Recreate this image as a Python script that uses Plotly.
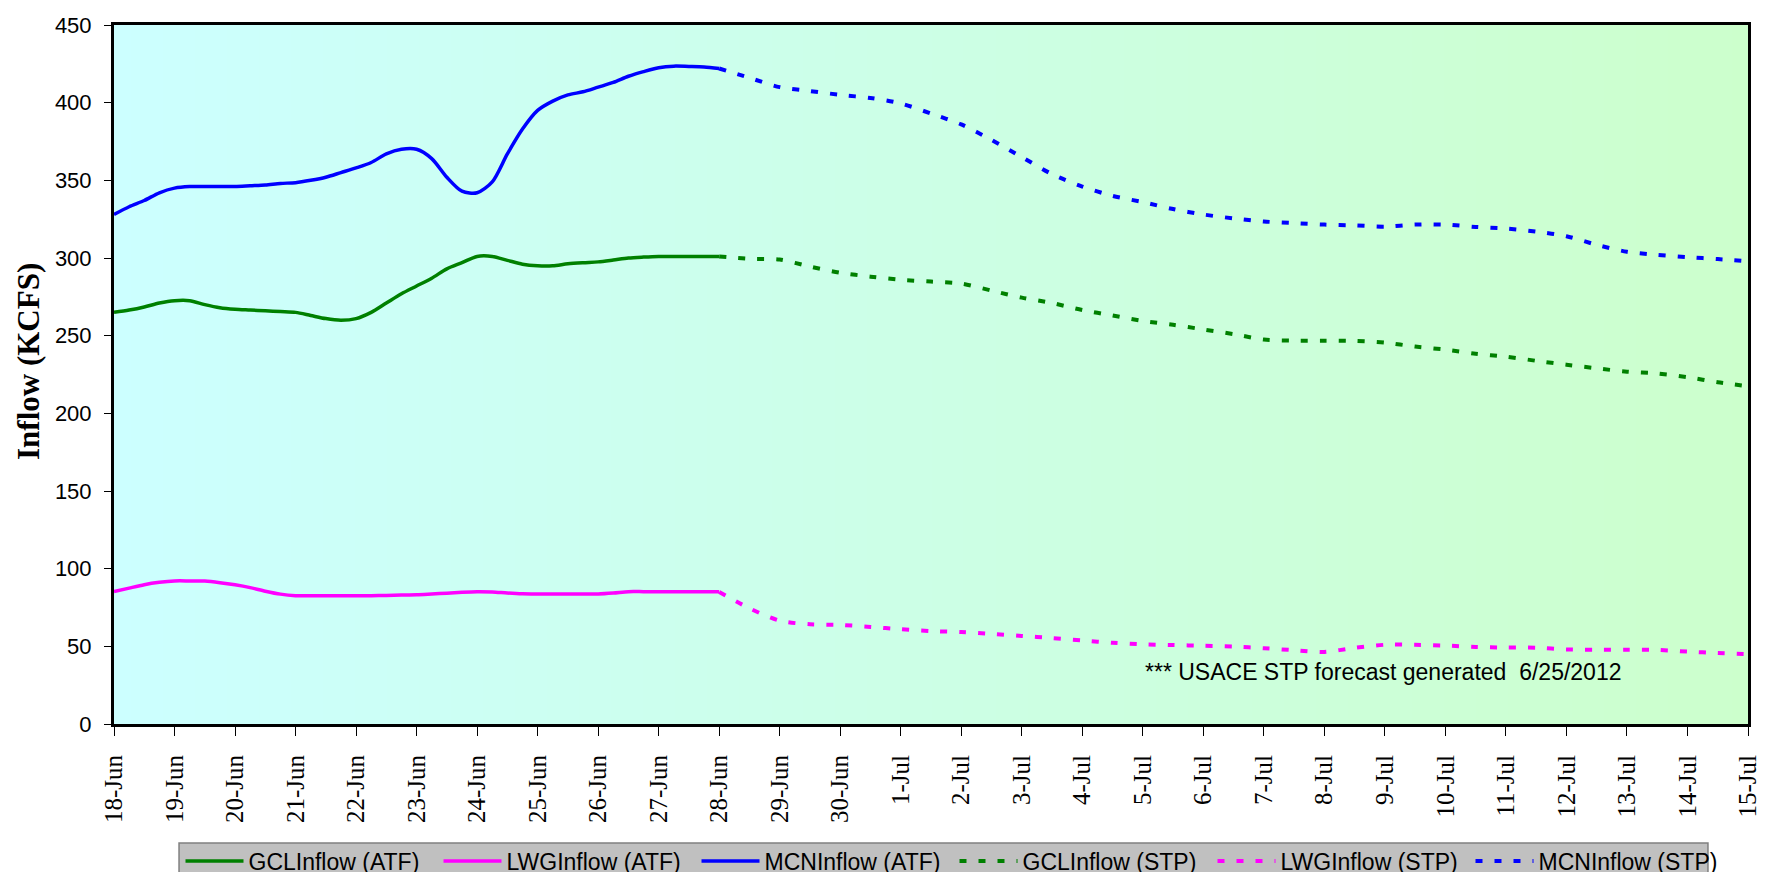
import numpy as np
import pandas as pd
import plotly.graph_objects as go

# ---------------- data ----------------
# Observed (ATF) values, 6-hourly from 18-Jun to 28-Jun 2012
atf_times = pd.date_range("2012-06-18 00:00", "2012-06-28 00:00", freq="6h")
gcl_atf = [265, 266.5, 268.5, 271, 272.5, 272.5, 270, 268, 267, 266.5,
           266, 265.5, 265, 263, 261, 260, 261, 265, 271, 277,
           282, 287, 293, 297, 301, 301, 298.5, 296, 295, 295,
           296.3, 297, 297.5, 298.7, 300, 300.6, 301, 301, 301, 301,
           301]
lwg_atf = [85.2, 87.5, 89.7, 91.2, 92.1, 92.1, 92, 91, 89.6, 87.8,
           85.5, 83.6, 82.6, 82.5, 82.5, 82.5, 82.5, 82.6, 82.8, 83,
           83.2, 83.7, 84.2, 84.8, 85.2, 85, 84.3, 83.8, 83.7, 83.7,
           83.7, 83.7, 83.7, 84.3, 85.2, 85.2, 85.2, 85.2, 85.2, 85.2,
           85.2]
mcn_atf = [328, 333, 337, 342, 345, 346, 346, 346, 346, 346.5,
           347, 348, 348.5, 350, 352, 355, 358, 361.5, 367, 370,
           370, 364, 352, 343, 342, 349, 367, 383, 395, 401,
           405, 407, 410, 413, 417, 420, 422.5, 423.5, 423.3, 423,
           422]

# STP forecast values, 12-hourly from 28-Jun to 15-Jul 2012
stp_times = pd.date_range("2012-06-28 00:00", "2012-07-15 00:00", freq="12h")
gcl_stp = [301, 299.5, 299, 294.5, 290.5, 288, 286, 284.8, 283.5, 279,
           274.5, 271, 266.5, 263, 259.5, 257, 254, 251, 247.5, 246.8,
           246.8, 246.6, 245.5, 243, 241, 238.3, 236.5, 233.8, 231.3, 229,
           226.8, 225.7, 223.3, 220, 217.5]
lwg_stp = [85, 74.5, 66.5, 64.2, 63.8, 62.5, 61, 59.8, 59.2, 58,
           56.7, 55.3, 53.8, 52.3, 51.3, 50.8, 50.4, 49.8, 48.8, 47.5,
           46.4, 49, 51, 51, 50.5, 49.6, 49.2, 49.1, 48, 47.8,
           47.8, 47.7, 46.6, 45.7, 45]
mcn_stp = [422, 416, 410, 407.5, 405, 403, 399.5, 393, 386, 376,
           365, 354, 346, 340, 336, 331.5, 328, 325.5, 323.5, 322.5,
           321.5, 321, 320.2, 321.5, 321.5, 320, 319, 317, 314, 308.5,
           304, 302, 300.6, 299.3, 298]

series_names = ["GCLInflow (ATF)", "LWGInflow (ATF)", "MCNInflow (ATF)",
                "GCLInflow (STP)", "LWGInflow (STP)", "MCNInflow (STP)"]
series_colors = ["#008000", "#FF00FF", "#0000FF"]

day_ticks = pd.date_range("2012-06-18", "2012-07-15", freq="D")
note_text = "*** USACE STP forecast generated  6/25/2012"
y_title = "Inflow (KCFS)"

# ---------------- figure ----------------
fig = go.Figure()

# gradient plot background (cyan -> light green)
bg_z = [list(range(len(day_ticks)))] * 2
fig.add_trace(go.Heatmap(
    x=day_ticks, y=[0, 450], z=bg_z, zsmooth="best",
    colorscale=[[0, "#CCFFFF"], [1, "#CCFFCC"]],
    showscale=False, hoverinfo="skip", showlegend=False))

atf_vals = [gcl_atf, lwg_atf, mcn_atf]
stp_vals = [gcl_stp, lwg_stp, mcn_stp]
for i in range(3):
    fig.add_trace(go.Scatter(
        x=atf_times, y=atf_vals[i], mode="lines", name=series_names[i],
        line=dict(color=series_colors[i], width=3.5, shape="spline", smoothing=0.8)))
for i in range(3):
    fig.add_trace(go.Scatter(
        x=stp_times, y=stp_vals[i], mode="lines", name=series_names[3 + i],
        line=dict(color=series_colors[i], width=4, shape="spline",
                  smoothing=0.8, dash="7px,12px")))

fig.add_annotation(
    x="2012-07-05", y=33.5, xref="x", yref="y", text=note_text,
    showarrow=False, xanchor="left", yanchor="middle",
    font=dict(family="Liberation Sans, Arial", size=23, color="black"))

# y-axis title
fig.add_annotation(
    x=-0.052, y=0.518, xref="paper", yref="paper", text="<b>" + y_title + "</b>",
    showarrow=False, textangle=-90, xanchor="center", yanchor="middle",
    font=dict(family="Liberation Serif, Times New Roman", size=31, color="black"))

# legend box
fig.add_shape(type="rect", xref="paper", yref="paper",
              x0=0.0398, x1=0.9755, y0=-0.26, y1=-0.1702,
              fillcolor="#C0C0C0", line=dict(color="#808080", width=1.5),
              layer="below")

fig.update_layout(
    width=1766, height=872,
    margin=dict(l=106, r=26, t=17, b=156, autoexpand=False),
    paper_bgcolor="white", plot_bgcolor="#CCFFFF",
    showlegend=True,
    legend=dict(orientation="h", x=0.0407, y=-0.1653, xanchor="left", yanchor="top",
                bgcolor="rgba(0,0,0,0)", borderwidth=0,
                font=dict(family="Liberation Sans, Arial", size=23, color="black"),
                itemwidth=58, entrywidth=185, entrywidthmode="pixels",
                traceorder="normal"),
    xaxis=dict(type="date", range=["2012-06-18", "2012-07-15"],
               tickmode="array", tickvals=list(day_ticks), tickformat="%-d-%b",
               tickangle=-90, ticks="outside", ticklen=9, tickwidth=1, tickcolor="black",
               ticklabelstandoff=9,
               showline=True, linecolor="black", linewidth=3, mirror=True,
               showgrid=False, zeroline=False,
               tickfont=dict(family="Liberation Serif, Times New Roman", size=25, color="black")),
    yaxis=dict(range=[0, 450], tickmode="linear", tick0=0, dtick=50,
               ticks="outside", ticklen=7, tickwidth=1, tickcolor="black",
               ticklabelstandoff=8,
               showline=True, linecolor="black", linewidth=3, mirror=True,
               showgrid=False, zeroline=False,
               tickfont=dict(family="Liberation Sans, Arial", size=22, color="black")),
)

fig.write_html("out.html")
